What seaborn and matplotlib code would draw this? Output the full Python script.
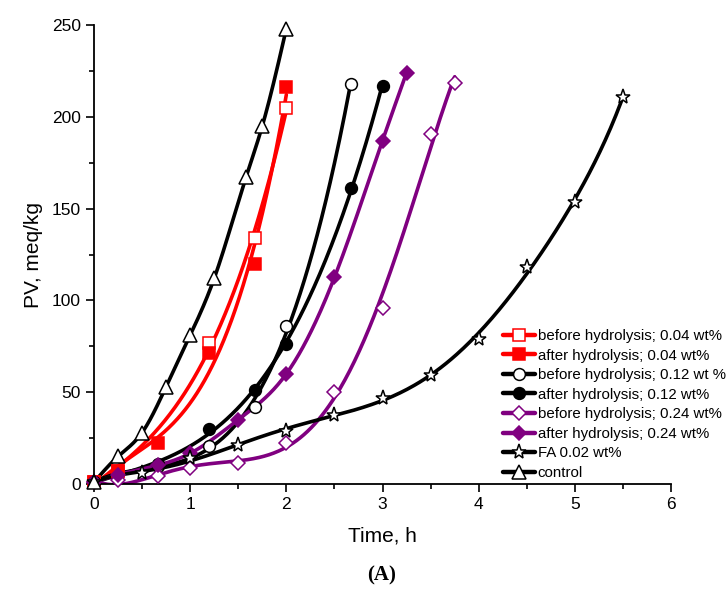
import numpy as np
import pandas as pd
import matplotlib
matplotlib.use("Agg")
import matplotlib.pyplot as plt
from matplotlib.lines import Line2D
from matplotlib.ticker import MultipleLocator
import seaborn as sns

# ---- data ----
t_red_before = [0, 0.25, 1.2, 1.67, 2.0]
v_red_before = [1, 7, 77, 134, 205]
t_red_after = [0, 0.25, 0.67, 1.2, 1.67, 2.0]
v_red_after = [1, 7, 22.5, 71.5, 120, 216]
t_blk_before = [0, 0.67, 1.2, 1.67, 2.0, 2.67]
v_blk_before = [1, 10, 20.5, 42, 86, 218]
t_blk_after = [0, 0.67, 1.2, 1.67, 2.0, 2.67, 3.0]
v_blk_after = [1, 11, 30, 51, 76, 161, 217]
t_pur_before = [0, 0.25, 0.67, 1.0, 1.5, 2.0, 2.5, 3.0, 3.5, 3.75]
v_pur_before = [1, 2.2, 4.4, 8.5, 11.2, 22.2, 50.3, 95.7, 190.6, 218.6]
t_pur_after = [0, 0.25, 0.67, 1.0, 1.5, 2.0, 2.5, 3.0, 3.25]
v_pur_after = [1, 5, 10.3, 16.7, 35, 60, 112.5, 187, 224]
t_fa = [0, 0.5, 1.0, 1.5, 2.0, 2.5, 3.0, 3.5, 4.0, 4.5, 5.0, 5.5]
v_fa = [1, 6, 14, 21, 29, 37.5, 47, 59.5, 79, 118, 153.5, 211]
t_ctrl = [0, 0.25, 0.5, 0.75, 1.0, 1.25, 1.58, 1.75, 2.0]
v_ctrl = [1, 15, 28, 53, 81, 112, 167, 195, 248]

labels = ["before hydrolysis; 0.04 wt%", "after hydrolysis; 0.04 wt%",
          "before hydrolysis; 0.12 wt %", "after hydrolysis; 0.12 wt%",
          "before hydrolysis; 0.24 wt%", "after hydrolysis; 0.24 wt%",
          "FA 0.02 wt%", "control"]


def nat_spline(x, y, n=300):
    x = np.asarray(x, float); y = np.asarray(y, float)
    k = len(x); h = np.diff(x)
    A = np.zeros((k, k)); b = np.zeros(k)
    A[0, 0] = 1; A[-1, -1] = 1
    for i in range(1, k - 1):
        A[i, i - 1] = h[i - 1]; A[i, i] = 2 * (h[i - 1] + h[i]); A[i, i + 1] = h[i]
        b[i] = 6 * ((y[i + 1] - y[i]) / h[i] - (y[i] - y[i - 1]) / h[i - 1])
    M = np.linalg.solve(A, b)
    xs = np.linspace(x[0], x[-1], n)
    idx = np.clip(np.searchsorted(x, xs) - 1, 0, k - 2)
    x0 = x[idx]; x1 = x[idx + 1]; hh = x1 - x0
    a = (x1 - xs) / hh; bb = (xs - x0) / hh
    ys = (a * y[idx] + bb * y[idx + 1]
          + ((a ** 3 - a) * M[idx] + (bb ** 3 - bb) * M[idx + 1]) * hh ** 2 / 6)
    return xs, ys


def smooth(x, y, deg=None, n=300):
    if deg is None:
        return nat_spline(x, y, n)
    c = np.polyfit(x, y, deg)
    xs = np.linspace(x[0], x[-1], n)
    return xs, np.polyval(c, xs)


series = [
    (t_red_before, v_red_before, "#ff0000", "s", "white", 3, 8),
    (t_red_after, v_red_after, "#ff0000", "s", "#ff0000", 3, 8),
    (t_blk_before, v_blk_before, "black", "o", "white", 3, 8.5),
    (t_blk_after, v_blk_after, "black", "o", "black", 3, 8.5),
    (t_pur_before, v_pur_before, "#800080", "D", "white", 5, 7.5),
    (t_pur_after, v_pur_after, "#800080", "D", "#800080", None, 7.5),
    (t_fa, v_fa, "black", "*", "white", 7, 11),
    (t_ctrl, v_ctrl, "black", "^", "white", None, 10),
]

sns.set_style("ticks")
plt.rcParams["font.family"] = ["Liberation Sans", "DejaVu Sans"]
plt.rcParams["text.color"] = "black"
plt.rcParams["axes.labelcolor"] = "black"

fig = plt.figure(figsize=(7.26, 5.97), dpi=100)
ax = fig.add_axes([94 / 726, 1 - 484 / 597, 577 / 726, 459 / 597])

handles = []
for (tx, vy, col, mk, mfc, deg, ms), lab in zip(series, labels):
    xs, ys = smooth(tx, vy, deg)
    df = pd.DataFrame({"t": xs, "v": ys})
    sns.lineplot(data=df, x="t", y="v", ax=ax, color=col, lw=2.6,
                 sort=False, estimator=None, legend=False)
    ax.plot(tx, vy, ls="none", marker=mk, ms=ms, mfc=mfc, mec=col,
            mew=1.1, clip_on=False, zorder=5)
    handles.append(Line2D([], [], color=col, lw=3.2, marker=mk, ms=ms,
                          mfc=mfc, mec=col, mew=1.1))

ax.set_xlim(0, 6)
ax.set_ylim(0, 250)
ax.xaxis.set_major_locator(MultipleLocator(1))
ax.xaxis.set_minor_locator(MultipleLocator(0.5))
ax.yaxis.set_major_locator(MultipleLocator(50))
ax.yaxis.set_minor_locator(MultipleLocator(25))
ax.tick_params(which="major", direction="out", length=6, width=1.2,
               labelsize=12.5, colors="black")
ax.tick_params(which="minor", direction="out", length=3.5, width=1.2, colors="black")
for s in ["top", "right"]:
    ax.spines[s].set_visible(False)
for s in ["left", "bottom"]:
    ax.spines[s].set_linewidth(1.3)
    ax.spines[s].set_color("black")

ax.set_xlabel("Time, h", fontsize=15, labelpad=10)
ax.set_ylabel("PV, meq/kg", fontsize=15, labelpad=6)

fig.legend(handles, labels, loc="upper left", bbox_to_anchor=(503 / 726, 1 - 329 / 597),
           frameon=False, fontsize=10.8, handlelength=2.1, handletextpad=0.2,
           labelspacing=0.37, borderpad=0, borderaxespad=0)

fig.text(382 / 726, 1 - 575 / 597, "(A)", ha="center", va="center",
         fontsize=15, fontweight="bold", family=["Liberation Serif", "DejaVu Serif"])

fig.savefig("out.png", dpi=100)
